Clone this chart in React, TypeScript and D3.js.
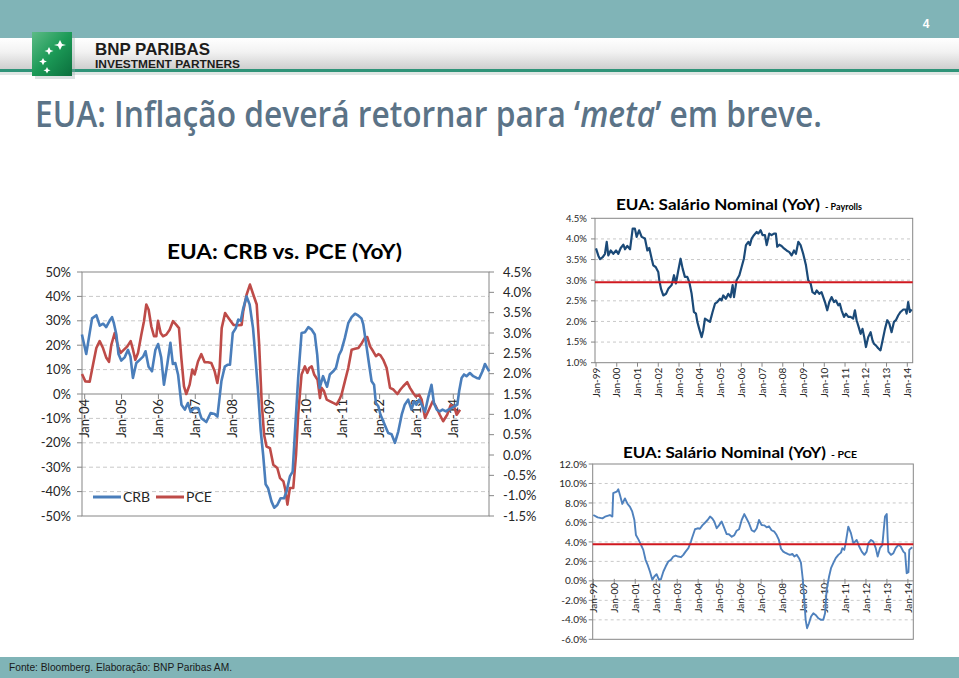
import React, { useLayoutEffect, useRef, useState } from 'react';
import * as d3 from 'd3';

type Pt = [number, number];

// ---------- DATA ----------
// month index from Jan-04 (0) ; CRB YoY %
const crbSeries: Pt[] = [[-0.9,24.4],[0.5,16.4],[2.4,31],[3.8,32.3],[4.9,28],[6,28.8],[7,27.4],[8.1,30],[8.9,31.5],[9.5,29],[10.3,24.4],[11,16.4],[11.9,13.7],[13,15],[14.1,18.1],[14.9,15.3],[15.7,6.6],[16.8,12.7],[17.9,14],[19,15.3],[19.8,17.5],[20.8,11.2],[21.9,9.3],[23,18],[23.9,20.5],[24.9,15],[25.8,3.8],[26.9,12.3],[27.9,21],[28.7,12.3],[29.5,12.7],[30.4,7.9],[31.5,-4.4],[32.6,-6.4],[33.6,-3.7],[34.5,-7.3],[35.6,-5.8],[36.9,-5.8],[38,-9.9],[39.6,-11.5],[41,-7.8],[42.3,-8.2],[43.2,-9.3],[44.5,5.2],[45.6,11.2],[46.6,12],[47.3,12],[48.2,25],[49.2,27],[50,30.5],[50.8,30],[51.6,35],[52.7,40],[53.7,36.7],[54.8,27],[55.4,18],[56.5,0],[57.3,-15],[58.1,-25],[58.9,-37],[59.7,-38.6],[60.8,-44],[61.7,-46.6],[62.7,-45.5],[63.8,-42.7],[64.9,-42.7],[65.7,-40],[66.8,-33.8],[67.7,-31.8],[68.4,-16.7],[69.5,6.6],[70.6,25],[71.7,25.3],[72.8,27.4],[73.8,26.5],[74.9,24.4],[75.7,16],[76.5,2.5],[77.6,7.3],[78.2,5.2],[78.9,3],[79.8,8],[80.9,9.3],[81.8,10.7],[82.8,16],[83.6,18],[84.7,23],[85.8,29],[86.9,31.5],[88,32.9],[89,32.2],[90.1,31],[90.7,28.5],[91.8,19],[92.6,12],[93.4,5.2],[94.2,3.8],[94.8,-3.7],[95.6,-5],[96.3,-8.5],[98.8,-16],[99.9,-16.5],[101,-20],[102.1,-15.3],[103.2,-8.5],[104.2,-4.4],[105.3,-2.3],[106.4,-6.4],[107.2,-3],[108,-4.4],[108.9,-2.3],[109.7,-4.4],[110.8,-7.3],[111.8,-1.6],[112.9,3.8],[113.7,-3.7],[114.6,-6.4],[115.6,-7.1],[116.5,-6.4],[117.6,-7.1],[118.4,-6.4],[119.4,-5.8],[120.5,-5],[121.3,-4.4],[121.9,1.1],[122.7,6.6],[123.5,8],[124.3,7.3],[125.4,8.6],[126.5,7.3],[127.6,6.6],[128.4,6.3],[129.5,9.3],[130.3,12.3],[131,10.7],[131.7,9.3]];

// month index from Jan-04 (0) ; PCE YoY % (right axis)
const pceSeries: Pt[] = [[-0.88,1.99],[0.21,1.81],[1.62,1.8],[2.7,2.22],[3.79,2.63],[4.87,2.8],[5.96,2.63],[7.04,2.39],[7.91,2.29],[8.67,2.71],[9.76,3.0],[10.84,2.67],[11.71,2.51],[12.79,2.59],[13.88,2.67],[14.96,2.8],[15.72,2.59],[16.48,2.34],[17.35,2.51],[18.44,2.96],[19.3,3.29],[20.06,3.7],[20.82,3.57],[21.69,3.16],[22.56,2.92],[23.32,2.92],[23.86,3.3],[24.73,3.0],[25.49,2.92],[26.57,2.96],[27.66,3.08],[28.74,3.29],[29.83,3.2],[30.7,3.12],[31.46,2.39],[32.32,1.69],[33.08,1.5],[34.17,1.73],[35.04,2.1],[35.8,1.98],[36.88,2.3],[37.97,2.48],[39.05,2.28],[40.14,2.28],[41.22,2.26],[42.31,2.06],[43.18,1.77],[43.94,2.14],[44.6,3.12],[45.7,3.49],[46.8,3.37],[48.4,3.2],[50,3.19],[51.1,3.2],[51.6,3.53],[52.7,3.94],[53.8,4.19],[54.9,3.94],[56,3.7],[56.8,2.71],[57.6,1.32],[58.4,0.5],[59.2,0.21],[60.3,0.17],[61.4,-0.24],[62.7,-0.32],[63.6,-0.57],[64.7,-0.65],[65.3,-0.85],[66,-1.22],[66.8,-0.81],[67.9,-0.81],[68.8,0.01],[69.5,1.0],[70.6,1.98],[71.7,2.18],[72.5,2.02],[73.1,2.14],[73.9,2.18],[74.7,1.98],[75.8,1.85],[76.6,1.4],[77.1,1.65],[77.9,1.57],[78.8,1.36],[79.9,1.32],[80.9,1.28],[82,1.24],[82.9,1.36],[83.6,1.48],[84.7,1.81],[85.8,2.14],[86.9,2.59],[88,2.61],[89.1,2.63],[90.2,2.75],[91.2,2.88],[92,2.9],[92.9,2.67],[93.9,2.55],[94.8,2.43],[95.6,2.48],[96.3,2.45],[97.2,2.34],[98.3,2.14],[99.4,1.65],[100.5,1.61],[101.8,1.5],[102.8,1.61],[103.7,1.69],[105,1.79],[105.9,1.65],[107,1.52],[107.8,1.44],[108.9,1.48],[109.7,1.36],[110.8,0.91],[111.8,1.07],[113.3,1.32],[114.3,1.2],[115.6,0.99],[116.7,0.83],[118,0.99],[119.1,1.22],[120.2,1.2],[121.1,0.99],[122.2,1.11]];

// month index from Jan-99 (0) ; wages YoY % (payrolls)
const payrollSeries: Pt[] = [[0,3.77],[1.3,3.6],[2.3,3.51],[3.9,3.56],[5.2,3.64],[6.2,3.93],[7.1,3.6],[8.5,3.72],[10,3.64],[11.6,3.72],[12.9,3.64],[14.3,3.78],[15.8,3.86],[16.8,3.75],[18.1,3.83],[19.7,3.75],[21.2,4.25],[22.5,4.25],[23.5,4.05],[24.9,4.21],[26.4,4.05],[28.3,4.01],[29.7,3.72],[30.8,3.78],[32.2,3.52],[33.1,3.36],[34.5,3.32],[36,3.2],[36.6,3.0],[37.6,2.79],[38.9,2.63],[40.5,2.67],[41.8,2.79],[43.7,2.88],[45.1,3.12],[46.2,2.92],[47.6,3.24],[48.9,3.52],[50.1,3.28],[51.4,3.08],[52.8,3.08],[53.9,2.96],[55.3,2.67],[56.6,2.23],[57.8,2.19],[58.6,1.99],[59.7,1.82],[61.1,1.62],[62,1.78],[63,2.07],[64.4,2.03],[65.9,1.99],[67.4,2.23],[68.8,2.43],[70.1,2.47],[71.7,2.55],[72.6,2.51],[73.6,2.63],[75.1,2.55],[76.5,2.67],[77.8,2.59],[79,2.88],[79.8,2.59],[81.3,3.0],[82.9,3.12],[84.2,3.32],[85.5,3.52],[86.7,3.85],[88.1,3.93],[89,3.85],[90,4.01],[91.3,4.09],[92.9,4.17],[93.8,4.13],[95.2,4.21],[96.3,4.09],[97.7,4.09],[98.7,3.85],[100.2,4.13],[101.5,4.09],[102.9,4.13],[104,4.13],[104.8,3.81],[106,3.86],[107.3,3.83],[108.7,3.77],[110.2,3.72],[111.8,3.68],[113.1,3.6],[114.5,3.72],[115.6,3.64],[117,3.93],[118.3,3.85],[119.8,3.64],[121.4,3.36],[122.7,3.0],[124.1,2.92],[125.2,2.71],[126.6,2.67],[127.6,2.75],[129.1,2.67],[130.4,2.71],[131.4,2.59],[132.4,2.47],[133.7,2.27],[134.9,2.47],[136.2,2.59],[137.6,2.47],[138.7,2.51],[140.1,2.39],[141,2.43],[142,2.27],[143.4,2.11],[144.5,2.19],[145.9,2.11],[147.2,2.11],[148.7,2.07],[149.7,2.27],[150.7,2.03],[152.2,1.82],[153,1.7],[154.1,1.82],[155.1,1.62],[156.1,1.38],[157.4,1.62],[158.8,1.74],[159.9,1.54],[160.7,1.46],[161.8,1.42],[163.2,1.35],[164.5,1.3],[165.7,1.54],[167.1,1.82],[168.4,2.03],[169.6,1.95],[170.9,1.74],[172.3,1.99],[173.4,2.03],[174.8,2.15],[176.1,2.23],[177.7,2.29],[179,2.29],[179.6,2.19],[180.5,2.47],[181.5,2.23],[182.5,2.29]];

// month index from Jan-99 (0) ; wages YoY % (PCE)
const pceWageSeries: Pt[] = [[0,6.76],[2.5,6.52],[5.2,6.42],[6.7,6.59],[9.5,6.76],[10.9,6.6],[11.4,9.0],[13.4,9.16],[14.3,9.4],[15.3,8.8],[16.6,7.9],[18.1,8.47],[19.6,7.9],[21,7.6],[22.3,7.1],[23.5,6.25],[24.4,4.7],[25.8,4.26],[27.3,3.7],[28.6,3.18],[29.9,2.16],[31.1,1.64],[32.4,0.96],[33.8,0.1],[34.9,0.45],[36.2,0.68],[37.6,0.1],[38.7,0.17],[40.1,0.96],[41.4,1.47],[42.9,1.99],[44.4,2.16],[45.8,2.5],[47.1,2.6],[48.6,2.5],[50.2,2.43],[51.5,2.67],[52.8,3.0],[54.4,3.36],[55.9,4.04],[56.3,4.3],[58.2,5.3],[59.7,5.4],[61,5.35],[62.4,5.7],[63.9,5.97],[65.4,6.25],[66.8,6.6],[68.1,6.4],[69.2,6.1],[70.6,5.4],[71.9,5.7],[73.4,6.1],[75,5.4],[76.3,4.8],[77.6,4.78],[79.2,4.53],[80.7,4.7],[82,5.15],[83.4,5.3],[84.9,6.25],[86.4,6.86],[87.7,6.4],[89.1,5.9],[90.6,5.2],[92.1,5.05],[93.5,5.4],[94.8,6.25],[96.3,5.73],[97.9,5.7],[99.2,5.5],[100.5,5.6],[102,5.2],[103.6,5.05],[104.9,4.7],[106.2,4.2],[107.4,3.3],[108.7,3.0],[109.7,2.9],[111.2,2.77],[112.5,2.67],[113.9,2.77],[115,2.5],[116.4,2.67],[117.7,2.33],[118.8,1.88],[119.8,0.27],[120.7,-1.95],[121.5,-4.0],[122.3,-4.86],[123.4,-4.35],[124.6,-3.66],[125.9,-3.32],[127.2,-3.5],[128.8,-3.84],[130.3,-4.0],[131.6,-4.0],[132.6,-3.32],[133.5,-0.92],[134.9,0.45],[136,1.3],[137.3,1.82],[138.7,2.33],[140.2,2.67],[141.7,2.9],[142.5,3.36],[143.6,3.18],[144.4,3.87],[145.9,5.56],[147.4,4.9],[148.8,3.85],[150.7,4.2],[152,3.58],[153.6,3.0],[155.1,2.67],[156.4,3.0],[157.4,3.87],[158.9,4.2],[160.2,4.04],[161.6,3.36],[162.7,2.5],[164,3.36],[165.4,3.7],[166,4.9],[166.9,6.6],[167.9,6.86],[168.4,4.5],[168.8,3.0],[170.3,2.67],[171.7,2.84],[173,3.36],[174.5,3.7],[175.9,3.53],[177.4,3.0],[178.4,2.84],[179.3,0.79],[180.3,0.9],[180.8,3.18],[181.8,3.36],[182.5,3.46]];

const crbAxisTicks = [50, 40, 30, 20, 10, 0, -10, -20, -30, -40, -50];
const pceAxisTicks = [4.5, 4.0, 3.5, 3.0, 2.5, 2.0, 1.5, 1.0, 0.5, 0.0, -0.5, -1.0, -1.5];
const crbYearLabels = ['Jan-04', 'Jan-05', 'Jan-06', 'Jan-07', 'Jan-08', 'Jan-09', 'Jan-10', 'Jan-11', 'Jan-12', 'Jan-13', 'Jan-14'];
const wageYearLabels = ['Jan-99', 'Jan-00', 'Jan-01', 'Jan-02', 'Jan-03', 'Jan-04', 'Jan-05', 'Jan-06', 'Jan-07', 'Jan-08', 'Jan-09', 'Jan-10', 'Jan-11', 'Jan-12', 'Jan-13', 'Jan-14'];
const payrollAxisTicks = [4.5, 4.0, 3.5, 3.0, 2.5, 2.0, 1.5, 1.0];
const pceWageAxisTicks = [12, 10, 8, 6, 4, 2, 0, -2, -4, -6];
const payrollAverage = 2.95;
const pceWageAverage = 3.75;

const FONT = 'Lato, "Open Sans", sans-serif';
const GRID = '#c9c9c9';
const AXIS = '#868686';
const TXT = '#262626';

export default function App() {
  const titleRef = useRef<SVGTextElement>(null);
  const [titleScale, setTitleScale] = useState(0.87);
  useLayoutEffect(() => {
    const el = titleRef.current;
    if (!el) return;
    const w = el.getComputedTextLength();
    if (w > 0) setTitleScale(787 / w);
  }, []);

  // ---- left chart ----
  const L = { left: 82, right: 489, top: 272, bottom: 516 };
  const xL = d3.scaleLinear().domain([0, 120]).range([84.7, 453.3]);
  const yL = d3.scaleLinear().domain([-50, 50]).range([L.bottom, L.top]);
  const yR = d3.scaleLinear().domain([-1.5, 4.5]).range([L.bottom, L.top]);
  const crbLine = d3.line<Pt>().x(d => xL(d[0])).y(d => yL(d[1]));
  const pceLine = d3.line<Pt>().x(d => xL(d[0])).y(d => yR(d[1]));

  // ---- top right chart ----
  const T = { left: 595, right: 912.7, top: 218.3, bottom: 362.7 };
  const xT = d3.scaleLinear().domain([0, 180]).range([596, 907.3]);
  const yT = d3.scaleLinear().domain([1, 4.5]).range([T.bottom, T.top]);
  const payLine = d3.line<Pt>().x(d => xT(d[0])).y(d => yT(d[1]));

  // ---- bottom right chart ----
  const B = { left: 592.7, right: 913.3, top: 464, bottom: 639.3 };
  const xB = d3.scaleLinear().domain([0, 180]).range([593.3, 907.9]);
  const yB = d3.scaleLinear().domain([-6, 12]).range([B.bottom, B.top]);
  const wageLine = d3.line<Pt>().x(d => xB(d[0])).y(d => yB(d[1]));

  return (
    <svg width={959} height={678} style={{ position: 'absolute', left: 0, top: 0, background: '#fff' }} fontFamily={FONT}>
      <defs>
        <linearGradient id="hdr" x1="0" y1="0" x2="0" y2="1">
          <stop offset="0" stopColor="#ffffff" />
          <stop offset="0.45" stopColor="#f2f2f2" />
          <stop offset="1" stopColor="#cfcfcf" />
        </linearGradient>
        <linearGradient id="logo" x1="0" y1="0" x2="1" y2="1">
          <stop offset="0" stopColor="#5dbb86" />
          <stop offset="0.5" stopColor="#1c9a57" />
          <stop offset="1" stopColor="#0b6f3d" />
        </linearGradient>
      </defs>

      {/* header */}
      <rect x={0} y={0} width={959} height={38} fill="#80b4b7" />
      <rect x={0} y={38} width={959} height={31} fill="url(#hdr)" />
      <rect x={0} y={69} width={959} height={3} fill="#2f9479" />
      <rect x={0} y={72} width={959} height={3} fill="#dfe6e4" />
      <text x={926} y={28} fill="#ffffff" fontSize={12} fontWeight={700} fontFamily="'Liberation Sans', Arial, sans-serif" textAnchor="middle">4</text>
      <rect x={35} y={35} width={40} height={44} fill="#9aa" opacity={0.35} />
      <rect x={32} y={32} width={40} height={44} fill="url(#logo)" />
      <g fill="#ffffff">
        <path d="M60,40 l2,4 4,1 -4,1 -2,4 -2,-4 -4,-1 4,-1z" />
        <path d="M49,47 l1.5,3 3,1 -3,1 -1.5,3 -1.5,-3 -3,-1 3,-1z" />
        <path d="M43,58 l1.3,2.6 2.6,1 -2.6,1 -1.3,2.6 -1.3,-2.6 -2.6,-1 2.6,-1z" />
        <path d="M47,67 l1.2,2.4 2.4,0.9 -2.4,0.9 -1.2,2.4 -1.2,-2.4 -2.4,-0.9 2.4,-0.9z" />
      </g>
      <text x={95} y={55} fontSize={16.5} fontWeight={700} fill="#1d1d1b" fontFamily="'Liberation Sans', Arial, sans-serif" textLength={115} lengthAdjust="spacingAndGlyphs">BNP PARIBAS</text>
      <text x={95} y={67.5} fontSize={10} fontWeight={700} fill="#1d1d1b" fontFamily="'Liberation Sans', Arial, sans-serif" textLength={145} lengthAdjust="spacingAndGlyphs">INVESTMENT PARTNERS</text>

      {/* title */}
      <text ref={titleRef} transform={`translate(35,127) scale(${titleScale},1)`} fontSize={36} fontWeight={600} fill="#5b7387" fontFamily="'Open Sans', sans-serif">
        EUA: Inflação deverá retornar para ‘<tspan fontStyle="italic">meta</tspan>’ em breve.
      </text>

      {/* footer */}
      <rect x={0} y={657} width={959} height={21} fill="#80b4b7" />
      <text x={9} y={671} fontSize={11.5} fill="#1a1a1a" fontFamily="'Liberation Sans', Arial, sans-serif" textLength={223} lengthAdjust="spacingAndGlyphs">Fonte: Bloomberg. Elaboração: BNP Paribas AM.</text>

      {/* ===== LEFT CHART ===== */}
      <text x={167} y={259} fontSize={20} fontWeight={700} fill="#000" textLength={235} lengthAdjust="spacingAndGlyphs">EUA: CRB vs. PCE (YoY)</text>
      {crbAxisTicks.map(v => (
        <g key={'lg' + v}>
          {v !== 0 && v !== 50 && v !== -50 && (
            <line x1={L.left} x2={L.right} y1={yL(v)} y2={yL(v)} stroke={GRID} strokeDasharray="4,3" />
          )}
          <line x1={L.left - 5} x2={L.left} y1={yL(v)} y2={yL(v)} stroke={AXIS} />
          <text x={71} y={yL(v)} dy="0.36em" textAnchor="end" fontSize={13} fill={TXT}>{`${v}%`}</text>
        </g>
      ))}
      {pceAxisTicks.map(v => (
        <g key={'rg' + v}>
          <line x1={L.right} x2={L.right + 5} y1={yR(v)} y2={yR(v)} stroke={AXIS} />
          <text x={503} y={yR(v)} dy="0.36em" fontSize={13} fill={TXT}>{`${v.toFixed(1)}%`}</text>
        </g>
      ))}
      <rect x={L.left} y={L.top} width={L.right - L.left} height={L.bottom - L.top} fill="none" stroke={AXIS} />
      <line x1={L.left} x2={L.right} y1={yL(0)} y2={yL(0)} stroke={AXIS} strokeWidth={1.2} />
      {crbYearLabels.map((lab, i) => (
        <g key={lab}>
          <line x1={xL(i * 12)} x2={xL(i * 12)} y1={yL(0)} y2={yL(0) + 5} stroke={AXIS} />
          <text transform={`translate(${xL(i * 12)},${yL(0) + 5}) rotate(-90)`} dy="0.36em" textAnchor="end" fontSize={13} fill={TXT}>{lab}</text>
        </g>
      ))}
      <path d={pceLine(pceSeries) || ''} fill="none" stroke="#be4b48" strokeWidth={2.6} strokeLinejoin="round" />
      <path d={crbLine(crbSeries) || ''} fill="none" stroke="#4a7ebb" strokeWidth={2.6} strokeLinejoin="round" />
      {/* legend */}
      <line x1={93} x2={121} y1={497} y2={497} stroke="#4a7ebb" strokeWidth={3} />
      <text x={123} y={497} dy="0.36em" fontSize={14} fill={TXT}>CRB</text>
      <line x1={156} x2={184} y1={497} y2={497} stroke="#be4b48" strokeWidth={3} />
      <text x={186} y={497} dy="0.36em" fontSize={14} fill={TXT}>PCE</text>

      {/* ===== TOP RIGHT CHART ===== */}
      <text x={616} y={210} fontSize={15} fontWeight={700} fill="#000" textLength={204} lengthAdjust="spacingAndGlyphs">EUA: Salário Nominal (YoY)</text>
      <text x={825} y={210} fontSize={9} fontWeight={700} fill="#000" textLength={37} lengthAdjust="spacingAndGlyphs">- Payrolls</text>
      {payrollAxisTicks.map(v => (
        <g key={'pt' + v}>
          {v !== 4.5 && v !== 1.0 && (
            <line x1={T.left} x2={T.right} y1={yT(v)} y2={yT(v)} stroke={GRID} strokeDasharray="3,3" />
          )}
          <line x1={T.left - 4} x2={T.left} y1={yT(v)} y2={yT(v)} stroke={AXIS} />
          <text x={587} y={yT(v)} dy="0.36em" textAnchor="end" fontSize={9.5} fill={TXT}>{`${v.toFixed(1)}%`}</text>
        </g>
      ))}
      <rect x={T.left} y={T.top} width={T.right - T.left} height={T.bottom - T.top} fill="none" stroke={AXIS} />
      {wageYearLabels.map((lab, i) => (
        <g key={'tx' + lab}>
          <line x1={xT(i * 12)} x2={xT(i * 12)} y1={T.bottom} y2={T.bottom + 4} stroke={AXIS} />
          <text transform={`translate(${xT(i * 12)},${T.bottom + 5}) rotate(-90)`} dy="0.36em" textAnchor="end" fontSize={10} fill={TXT}>{lab}</text>
        </g>
      ))}
      <path d={payLine(payrollSeries) || ''} fill="none" stroke="#1b4a78" strokeWidth={2.2} strokeLinejoin="round" />
      <line x1={T.left} x2={T.right} y1={yT(payrollAverage)} y2={yT(payrollAverage)} stroke="#d0181f" strokeWidth={2} />

      {/* ===== BOTTOM RIGHT CHART ===== */}
      <text x={623} y={458} fontSize={15} fontWeight={700} fill="#000" textLength={203} lengthAdjust="spacingAndGlyphs">EUA: Salário Nominal (YoY)</text>
      <text x={831} y={458} fontSize={9} fontWeight={700} fill="#000" textLength={26} lengthAdjust="spacingAndGlyphs">- PCE</text>
      {pceWageAxisTicks.map(v => (
        <g key={'wt' + v}>
          {v !== 12 && v !== -6 && v !== 0 && (
            <line x1={B.left} x2={B.right} y1={yB(v)} y2={yB(v)} stroke={GRID} strokeDasharray="3,3" />
          )}
          <line x1={B.left - 4} x2={B.left} y1={yB(v)} y2={yB(v)} stroke={AXIS} />
          <text x={587} y={yB(v)} dy="0.36em" textAnchor="end" fontSize={10} fill={TXT}>{`${v.toFixed(1)}%`}</text>
        </g>
      ))}
      <rect x={B.left} y={B.top} width={B.right - B.left} height={B.bottom - B.top} fill="none" stroke={AXIS} />
      <line x1={B.left} x2={B.right} y1={yB(0)} y2={yB(0)} stroke={AXIS} />
      {wageYearLabels.map((lab, i) => (
        <g key={'bx' + lab}>
          <line x1={xB(i * 12)} x2={xB(i * 12)} y1={yB(0) - 2} y2={yB(0) + 3} stroke={AXIS} />
          <text transform={`translate(${xB(i * 12)},${yB(0) + 2}) rotate(-90)`} dy="0.36em" textAnchor="end" fontSize={10} fill={TXT}>{lab}</text>
        </g>
      ))}
      <path d={wageLine(pceWageSeries) || ''} fill="none" stroke="#4f81bd" strokeWidth={1.9} strokeLinejoin="round" />
      <line x1={B.left} x2={B.right} y1={yB(pceWageAverage)} y2={yB(pceWageAverage)} stroke="#d0181f" strokeWidth={2} />
    </svg>
  );
}
